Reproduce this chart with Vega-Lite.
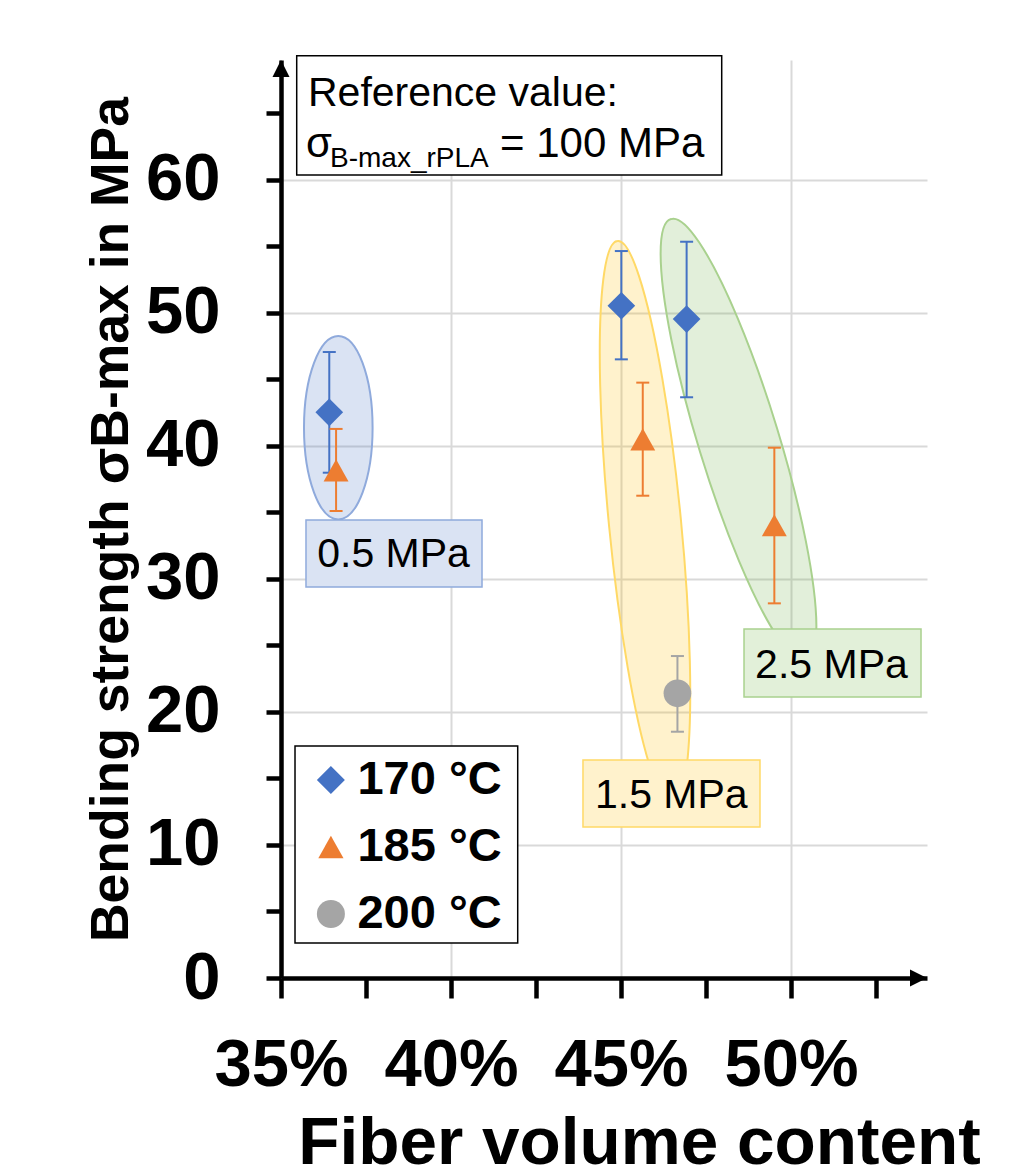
{
  "$schema": "https://vega.github.io/schema/vega-lite/v6.json",
  "width": 646,
  "height": 918,
  "autosize": {"type": "none"},
  "padding": {"left": 281, "top": 60, "right": 86, "bottom": 198},
  "background": "white",
  "config": {"view": {"stroke": null}, "font": "Liberation Sans"},
  "datasets": {
    "pts": [
      {"temp": "170 °C", "x": 36.42, "y": 42.52, "lo": 37.98, "hi": 47.05},
      {"temp": "185 °C", "x": 36.62, "y": 38.15, "lo": 35.1, "hi": 41.27},
      {"temp": "170 °C", "x": 45.01, "y": 50.53, "lo": 46.5, "hi": 54.64},
      {"temp": "170 °C", "x": 46.93, "y": 49.53, "lo": 43.65, "hi": 55.34},
      {"temp": "185 °C", "x": 45.64, "y": 40.49, "lo": 36.25, "hi": 44.75},
      {"temp": "185 °C", "x": 49.51, "y": 34.03, "lo": 28.16, "hi": 39.86},
      {"temp": "200 °C", "x": 46.66, "y": 21.4, "lo": 18.51, "hi": 24.2}
    ],
    "ellipses": [
      {"group": "0.5", "x": 36.685, "y": 41.36},
      {"group": "1.5", "x": 45.706, "y": 34.2},
      {"group": "2.5", "x": 48.456, "y": 40.44}
    ],
    "boxes": [
      {"group": "0.5", "x": 35.735, "x2": 40.912, "y": 34.43, "y2": 29.39},
      {"group": "1.5", "x": 43.882, "x2": 49.088, "y": 16.39, "y2": 11.35},
      {"group": "2.5", "x": 48.618, "x2": 53.824, "y": 26.23, "y2": 21.12}
    ],
    "labels": [
      {"text": "0.5 MPa", "x": 38.31, "y": 30.87},
      {"text": "1.5 MPa", "x": 46.48, "y": 12.78},
      {"text": "2.5 MPa", "x": 51.19, "y": 22.53}
    ],
    "frames": [
      {"name": "reference", "x": 35.462, "x2": 47.962, "y": 69.32, "y2": 60.356},
      {"name": "legend", "x": 35.412, "x2": 41.962, "y": 17.44, "y2": 2.63}
    ],
    "reftitle": [
      {"text": "Reference value:", "x": 35.794, "y": 65.565}
    ],
    "reftext": [
      {"text": "σ", "x": 35.735, "y": 61.709},
      {"text": "= 100 MPa", "x": 41.441, "y": 61.709}
    ],
    "refsub": [
      {"text": "B-max_rPLA", "x": 36.441, "y": 60.98}
    ],
    "arrowY": [{"x": 35, "y": 69}],
    "arrowX": [{"x": 54, "y": 0}]
  },
  "layer": [
    {
      "data": {"name": "ellipses"},
      "transform": [{"filter": "datum.group == '0.5'"}],
      "mark": {"type": "point", "shape": "M0,-91.7A34.3,91.7,0,1,1,0,91.7A34.3,91.7,0,1,1,0,-91.7Z", "size": 4, "filled": true, "fill": "#4472c4", "fillOpacity": 0.2, "stroke": "#8faadc", "strokeWidth": 2, "strokeOpacity": 1, "opacity": 1},
      "encoding": {
        "x": {
          "field": "x", "type": "quantitative",
          "scale": {"domain": [35, 54], "nice": false, "zero": false},
          "axis": {
            "values": [35, 37.5, 40, 42.5, 45, 47.5, 50, 52.5],
            "labelExpr": "datum.value % 5 == 0 ? datum.value + '%' : ''",
            "title": "Fiber volume content",
            "titleFont": "Liberation Sans", "titleFontWeight": "bold", "titleFontSize": 67.5, "titleColor": "black",
            "titleX": 358, "titleY": 185, "titleAlign": "center", "titleBaseline": "alphabetic", "titleAngle": 0,
            "labelFont": "Liberation Sans", "labelFontWeight": "bold", "labelFontSize": 67, "labelColor": "black",
            "labelBaseline": "alphabetic", "labelAlign": "center", "labelPadding": 87, "labelFlush": false, "labelOverlap": false, "labelBound": false,
            "tickSize": 20, "tickWidth": 4.5, "tickColor": "black",
            "domainColor": "black", "domainWidth": 4.5,
            "grid": true, "gridColor": "#d9d9d9", "gridWidth": 2,
            "gridOpacity": {"condition": {"test": "datum.value % 5 == 0 && datum.value > 35", "value": 1}, "value": 0}
          }
        },
        "y": {
          "field": "y", "type": "quantitative",
          "scale": {"domain": [0, 69], "nice": false, "zero": false},
          "axis": {
            "values": [0, 5, 10, 15, 20, 25, 30, 35, 40, 45, 50, 55, 60, 65],
            "labelExpr": "datum.value % 10 == 0 ? datum.label : ''",
            "title": "Bending strength σB-max in MPa",
            "titleFont": "Liberation Sans", "titleFontWeight": "bold", "titleFontSize": 53.5, "titleColor": "black",
            "titleX": -154, "titleY": 459, "titleAngle": -90, "titleAlign": "center", "titleBaseline": "alphabetic",
            "labelFont": "Liberation Sans", "labelFontWeight": "bold", "labelFontSize": 67, "labelColor": "black",
            "labelBaseline": "middle", "labelAlign": "right", "labelPadding": 46, "labelFlush": false, "labelOverlap": false, "labelBound": false,
            "tickSize": 15, "tickWidth": 4.5, "tickColor": "black",
            "domainColor": "black", "domainWidth": 4.5,
            "grid": true, "gridColor": "#d9d9d9", "gridWidth": 2,
            "gridOpacity": {"condition": {"test": "datum.value % 10 == 0 && datum.value > 0", "value": 1}, "value": 0}
          }
        }
      }
    },
    {
      "data": {"name": "ellipses"},
      "transform": [{"filter": "datum.group == '1.5'"}],
      "mark": {"type": "point", "shape": "M-27.45,-281.96A35.8,283.3,-5.56,1,1,27.45,281.96A35.8,283.3,-5.56,1,1,-27.45,-281.96Z", "size": 4, "filled": true, "fill": "#ffc000", "fillOpacity": 0.2, "stroke": "#ffd966", "strokeWidth": 2, "strokeOpacity": 1, "opacity": 1},
      "encoding": {
        "x": {"field": "x", "type": "quantitative"},
        "y": {"field": "y", "type": "quantitative"}
      }
    },
    {
      "data": {"name": "ellipses"},
      "transform": [{"filter": "datum.group == '2.5'"}],
      "mark": {"type": "point", "shape": "M-67.54,-220.9A40,231,-17,1,1,67.54,220.9A40,231,-17,1,1,-67.54,-220.9Z", "size": 4, "filled": true, "fill": "#70ad47", "fillOpacity": 0.2, "stroke": "#a9d18e", "strokeWidth": 2, "strokeOpacity": 1, "opacity": 1},
      "encoding": {
        "x": {"field": "x", "type": "quantitative"},
        "y": {"field": "y", "type": "quantitative"}
      }
    },
    {
      "data": {"name": "boxes"},
      "mark": {"type": "rect", "strokeWidth": 1.5, "opacity": 1},
      "encoding": {
        "x": {"field": "x", "type": "quantitative"},
        "x2": {"field": "x2"},
        "y": {"field": "y", "type": "quantitative"},
        "y2": {"field": "y2"},
        "fill": {"field": "group", "type": "nominal", "scale": {"domain": ["0.5", "1.5", "2.5"], "range": ["#dae3f3", "#fff2cc", "#e2f0d9"]}, "legend": null},
        "stroke": {"field": "group", "type": "nominal", "scale": {"domain": ["0.5", "1.5", "2.5"], "range": ["#8faadc", "#ffd966", "#a9d18e"]}, "legend": null}
      }
    },
    {
      "data": {"name": "frames"},
      "mark": {"type": "rect", "fill": "white", "stroke": "black", "strokeWidth": 1.5},
      "encoding": {
        "x": {"field": "x", "type": "quantitative"},
        "x2": {"field": "x2"},
        "y": {"field": "y", "type": "quantitative"},
        "y2": {"field": "y2"}
      }
    },
    {
      "data": {"name": "pts"},
      "mark": {"type": "rule", "strokeWidth": 2},
      "encoding": {
        "x": {"field": "x", "type": "quantitative"},
        "y": {"field": "lo", "type": "quantitative"},
        "y2": {"field": "hi"},
        "color": {"field": "temp", "type": "nominal"}
      }
    },
    {
      "data": {"name": "pts"},
      "mark": {"type": "tick", "orient": "horizontal", "size": 13, "thickness": 2, "opacity": 1},
      "encoding": {
        "x": {"field": "x", "type": "quantitative"},
        "y": {"field": "lo", "type": "quantitative"},
        "color": {"field": "temp", "type": "nominal"}
      }
    },
    {
      "data": {"name": "pts"},
      "mark": {"type": "tick", "orient": "horizontal", "size": 13, "thickness": 2, "opacity": 1},
      "encoding": {
        "x": {"field": "x", "type": "quantitative"},
        "y": {"field": "hi", "type": "quantitative"},
        "color": {"field": "temp", "type": "nominal"}
      }
    },
    {
      "data": {"name": "pts"},
      "mark": {"type": "point", "filled": true, "size": 767, "opacity": 1, "strokeWidth": 0},
      "encoding": {
        "x": {"field": "x", "type": "quantitative"},
        "y": {"field": "y", "type": "quantitative"},
        "color": {
          "field": "temp", "type": "nominal",
          "scale": {"domain": ["170 °C", "185 °C", "200 °C"], "range": ["#4472c4", "#ed7d31", "#a5a5a5"]},
          "legend": {
            "title": null, "orient": "none", "legendX": 26.4, "legendY": 696.5,
            "labelFont": "Liberation Sans", "labelFontWeight": "bold", "labelFontSize": 47, "labelColor": "black",
            "labelOffset": 3, "symbolSize": 784, "symbolStrokeWidth": 0, "symbolOpacity": 1,
            "padding": 0, "rowPadding": 19, "labelLimit": 400
          }
        },
        "shape": {
          "field": "temp", "type": "nominal",
          "scale": {"domain": ["170 °C", "185 °C", "200 °C"], "range": ["diamond", "M0,-0.8L0.9,0.8L-0.9,0.8Z", "circle"]},
          "legend": {
            "title": null, "orient": "none", "legendX": 26.4, "legendY": 696.5,
            "labelFont": "Liberation Sans", "labelFontWeight": "bold", "labelFontSize": 47, "labelColor": "black",
            "labelOffset": 3, "symbolSize": 784, "symbolStrokeWidth": 0, "symbolOpacity": 1,
            "padding": 0, "rowPadding": 19, "labelLimit": 400
          }
        }
      }
    },
    {
      "data": {"name": "labels"},
      "mark": {"type": "text", "font": "Liberation Sans", "fontSize": 41, "align": "center", "baseline": "alphabetic", "color": "black"},
      "encoding": {
        "x": {"field": "x", "type": "quantitative"},
        "y": {"field": "y", "type": "quantitative"},
        "text": {"field": "text"}
      }
    },
    {
      "data": {"name": "reftitle"},
      "mark": {"type": "text", "font": "Liberation Sans", "fontSize": 41, "align": "left", "baseline": "alphabetic", "color": "black"},
      "encoding": {
        "x": {"field": "x", "type": "quantitative"},
        "y": {"field": "y", "type": "quantitative"},
        "text": {"field": "text"}
      }
    },
    {
      "data": {"name": "reftext"},
      "mark": {"type": "text", "font": "Liberation Sans", "fontSize": 42, "align": "left", "baseline": "alphabetic", "color": "black"},
      "encoding": {
        "x": {"field": "x", "type": "quantitative"},
        "y": {"field": "y", "type": "quantitative"},
        "text": {"field": "text"}
      }
    },
    {
      "data": {"name": "refsub"},
      "mark": {"type": "text", "font": "Liberation Sans", "fontSize": 28, "align": "left", "baseline": "alphabetic", "color": "black"},
      "encoding": {
        "x": {"field": "x", "type": "quantitative"},
        "y": {"field": "y", "type": "quantitative"},
        "text": {"field": "text"}
      }
    },
    {
      "data": {"name": "arrowY"},
      "mark": {"type": "point", "shape": "M0,0L-8.5,17L8.5,17Z", "size": 4, "filled": true, "color": "black", "opacity": 1},
      "encoding": {
        "x": {"field": "x", "type": "quantitative"},
        "y": {"field": "y", "type": "quantitative"}
      }
    },
    {
      "data": {"name": "arrowX"},
      "mark": {"type": "point", "shape": "M0,0L-17,-8.5L-17,8.5Z", "size": 4, "filled": true, "color": "black", "opacity": 1},
      "encoding": {
        "x": {"field": "x", "type": "quantitative"},
        "y": {"field": "y", "type": "quantitative"}
      }
    }
  ]
}
